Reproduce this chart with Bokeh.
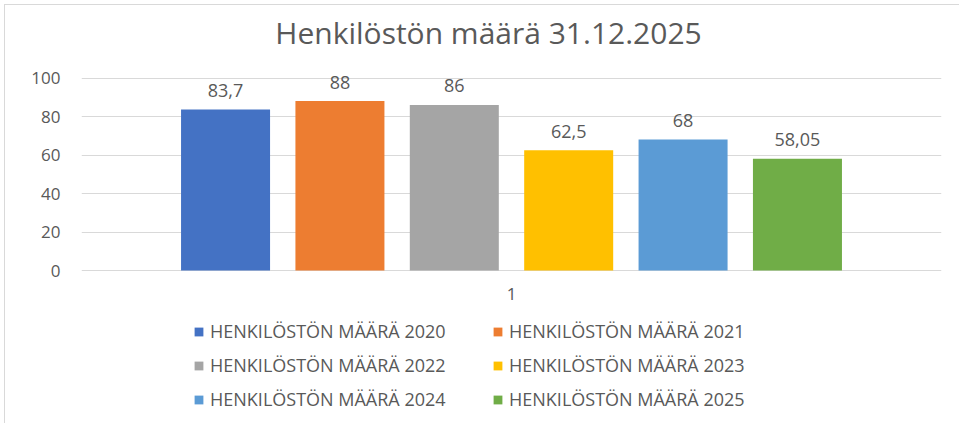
from bokeh.plotting import figure
from bokeh.models import ColumnDataSource, Legend, LegendItem, Range1d, FactorRange, FixedTicker, Label
from bokeh.transform import dodge
from bokeh.core.properties import value
from bokeh.embed import file_html
from bokeh.resources import INLINE

# ---- data ----
chart_title = "Henkilöstön määrä 31.12.2025"
categories = ["1"]
series_names = [
    "HENKILÖSTÖN MÄÄRÄ 2020",
    "HENKILÖSTÖN MÄÄRÄ 2021",
    "HENKILÖSTÖN MÄÄRÄ 2022",
    "HENKILÖSTÖN MÄÄRÄ 2023",
    "HENKILÖSTÖN MÄÄRÄ 2024",
    "HENKILÖSTÖN MÄÄRÄ 2025",
]
series_values = [83.7, 88, 86, 62.5, 68, 58.05]
colors = ["#4472C4", "#ED7D31", "#A5A5A5", "#FFC000", "#5B9BD5", "#70AD47"]
y_ticks = [0, 20, 40, 60, 80, 100]

FONT = "Open Sans"
TXT = "#595959"
GRID = "#D9D9D9"

# ---- layout constants (pixels) ----
W, H = 955, 419
FRAME_L, FRAME_R = 76, 19
ZERO_Y = 265.0          # distance of the value 0 from the top of the figure
PX_PER_UNIT = 1.925     # pixels per y unit

p = figure(
    x_range=FactorRange(*categories, range_padding=0),
    y_range=Range1d(-(H - ZERO_Y) / PX_PER_UNIT, ZERO_Y / PX_PER_UNIT),
    width=W, height=H,
    output_backend="svg", toolbar_location=None,
    x_axis_location=None,
    min_border_left=FRAME_L, min_border_right=FRAME_R,
    min_border_top=0, min_border_bottom=0,
)
p.styles = {
    "border-left": "1px solid #D9D9D9",
    "border-top": "1px solid #D9D9D9",
    "margin-left": "4px",
    "margin-top": "4px",
}
p.outline_line_color = None
p.background_fill_color = "white"
p.border_fill_color = "white"

# title
p.add_layout(Label(
    x=407, y=392, x_units="screen", y_units="screen", text=chart_title,
    text_align="center", text_baseline="alphabetic",
    text_font=FONT, text_font_size="30px", text_color=TXT,
))

n = len(series_values)
step = 0.133
bar_w = 0.1035
items = []
for i, (name, val, col) in enumerate(zip(series_names, series_values, colors)):
    src = ColumnDataSource(dict(
        cat=categories,
        val=[val],
        lab=[f"{val:g}".replace(".", ",")],
    ))
    off = (i - (n - 1) / 2) * step
    r = p.vbar(x=dodge("cat", off, range=p.x_range), top="val", width=bar_w,
               bottom=0, source=src, fill_color=col, line_color=None)
    p.text(x=dodge("cat", off, range=p.x_range), y="val", text="lab", source=src,
           text_align="center", text_baseline="alphabetic", y_offset=-19,
           text_font=value(FONT), text_font_size="18px", text_color=TXT)
    items.append(LegendItem(label=name, renderers=[r]))

# category label under the baseline
cat_src = ColumnDataSource(dict(cat=categories, y=[0] * len(categories)))
p.text(x="cat", y="y", text="cat", source=cat_src, text_align="center",
       text_baseline="middle", y_offset=23,
       text_font=value(FONT), text_font_size="17px", text_color=TXT)

legend = Legend(
    items=items, orientation="horizontal", ncols=2, location=(112, 13),
    label_text_font=FONT, label_text_font_size="18px", label_text_color=TXT,
    glyph_width=11, glyph_height=11, label_standoff=6, label_height=20,
    label_width=272, spacing=10, padding=0, margin=0,
    border_line_color=None, background_fill_alpha=0,
)
p.add_layout(legend, "center")

p.ygrid.grid_line_color = GRID
p.ygrid.ticker = FixedTicker(ticks=y_ticks)

p.yaxis.ticker = FixedTicker(ticks=y_ticks)
p.yaxis.axis_line_alpha = 0
p.yaxis.major_tick_line_alpha = 0
p.yaxis.minor_tick_line_alpha = 0
p.yaxis.major_tick_out = 0
p.yaxis.major_tick_in = 0
p.yaxis.major_label_standoff = 21
p.yaxis.major_label_text_font = FONT
p.yaxis.major_label_text_font_size = "17px"
p.yaxis.major_label_text_color = TXT

open("out.html", "w").write(file_html(p, INLINE))
